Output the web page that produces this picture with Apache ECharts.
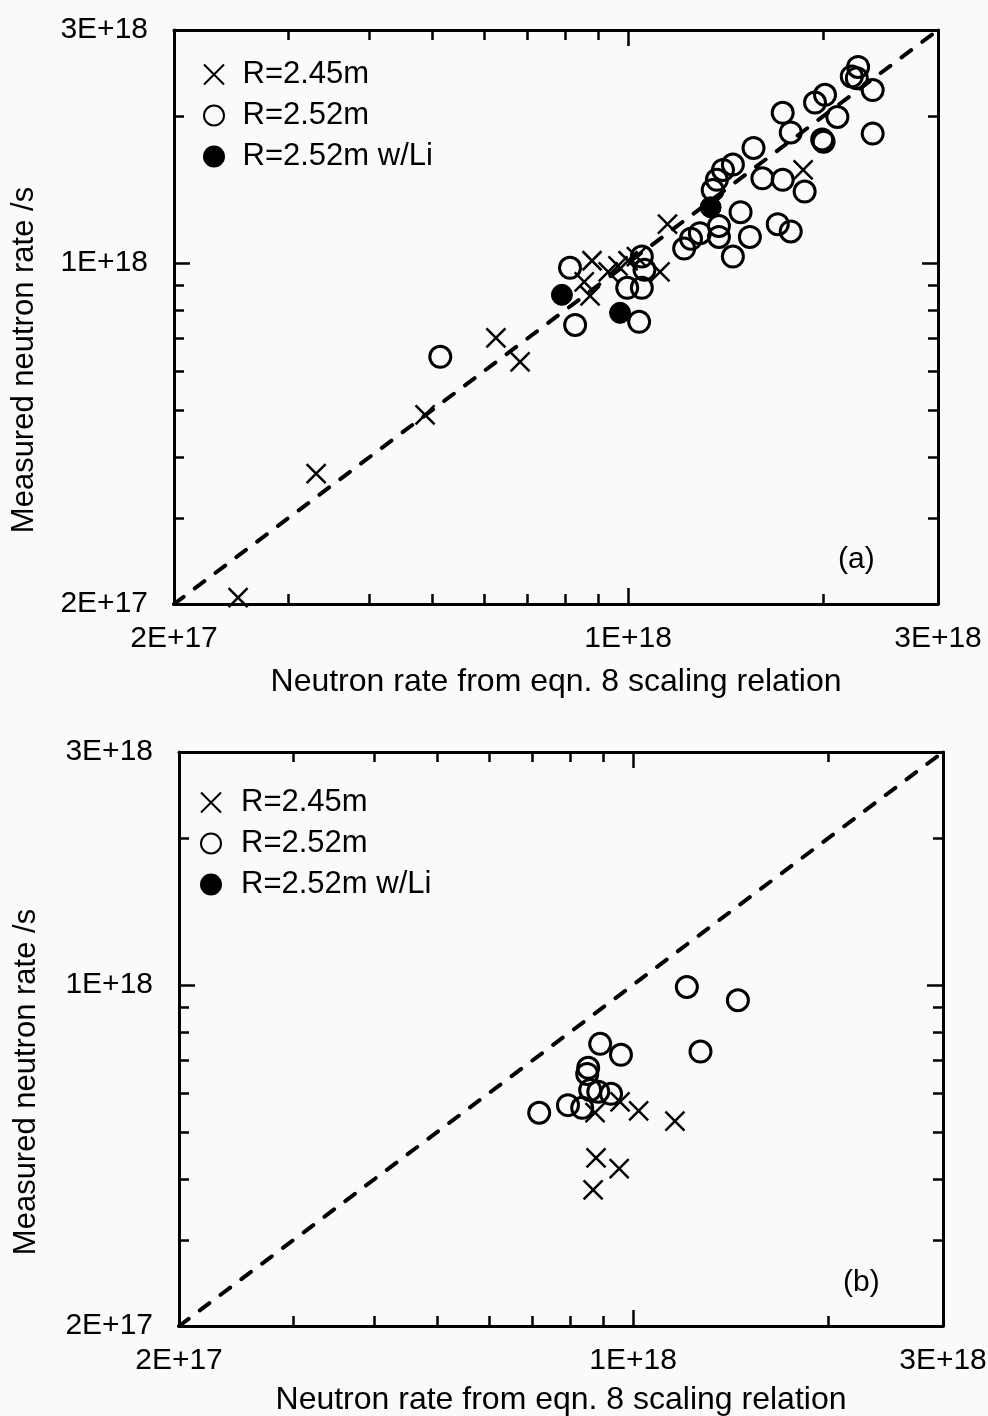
<!DOCTYPE html>
<html>
<head>
<meta charset="utf-8">
<script src="https://cdn.jsdelivr.net/npm/echarts@6.0.0/dist/echarts.min.js"></script>
<style>
html,body{margin:0;padding:0;background:#fafafa;}
#chart{width:988px;height:1416px;}
</style>
</head>
<body>
<div id="chart"></div>
<script>
var FONT = '"Liberation Sans", Arial, Helvetica, sans-serif';

// 数据
var legendNames = ['R=2.45m', 'R=2.52m', 'R=2.52m w/Li'];
var tickValues = [2e17, 1e18, 3e18];
var tickLabels = ['2E+17', '1E+18', '3E+18'];
var majorTicks = [1e18];
var minorTicks = [3e17, 4e17, 5e17, 6e17, 7e17, 8e17, 9e17, 2e18];
var lineEnds = [[2e17, 2e17], [3e18, 3e18]];
var xTitle = 'Neutron rate from eqn. 8 scaling relation';
var yTitle = 'Measured neutron rate /s';
var panelTags = ['(a)', '(b)'];

// (a)
var topCross = [
  [2.51e17, 2.06e17], [3.31e17, 3.70e17], [4.87e17, 4.88e17], [6.26e17, 7.02e17], [6.82e17, 6.27e17],
  [8.80e17, 1.01e18], [8.56e17, 9.14e17], [8.74e17, 8.56e17], [9.32e17, 9.58e17], [9.65e17, 9.86e17],
  [1.00e18, 1.01e18], [1.03e18, 1.03e18], [1.12e18, 9.58e17], [1.15e18, 1.20e18], [1.86e18, 1.55e18]
];
var topOpen = [
  [5.14e17, 6.42e17], [8.14e17, 9.77e17], [8.29e17, 7.46e17], [1.05e18, 1.03e18], [1.06e18, 9.68e17],
  [9.97e17, 8.89e17], [1.05e18, 8.89e17], [1.04e18, 7.57e17], [1.22e18, 1.07e18], [1.25e18, 1.12e18],
  [1.29e18, 1.15e18], [1.38e18, 1.19e18], [1.38e18, 1.13e18], [1.45e18, 1.03e18], [1.49e18, 1.27e18],
  [1.54e18, 1.13e18], [1.70e18, 1.20e18], [1.78e18, 1.16e18], [1.35e18, 1.41e18], [1.37e18, 1.48e18],
  [1.40e18, 1.55e18], [1.45e18, 1.59e18], [1.56e18, 1.72e18], [1.61e18, 1.49e18], [1.73e18, 1.48e18],
  [1.87e18, 1.40e18], [1.73e18, 2.03e18], [1.78e18, 1.85e18], [1.94e18, 2.13e18], [2.01e18, 2.21e18],
  [2.10e18, 1.99e18], [1.99e18, 1.79e18], [2.00e18, 1.77e18], [2.21e18, 2.41e18], [2.26e18, 2.52e18],
  [2.25e18, 2.39e18], [2.38e18, 2.26e18], [2.38e18, 1.84e18]
];
var topFilled = [[7.91e17, 8.60e17], [9.72e17, 7.90e17], [1.34e18, 1.30e18]];

// (b)
var botCross = [
  [8.74e17, 5.47e17], [9.55e17, 5.76e17], [1.02e18, 5.52e17], [1.16e18, 5.26e17],
  [8.77e17, 4.42e17], [9.52e17, 4.20e17], [8.68e17, 3.80e17]
];
var botOpen = [
  [1.21e18, 9.9e17], [1.45e18, 9.3e17], [1.27e18, 7.3e17], [8.9e17, 7.57e17], [9.58e17, 7.19e17],
  [8.53e17, 6.76e17], [8.50e17, 6.57e17], [8.59e17, 6.09e17], [8.84e17, 6.04e17], [9.25e17, 5.98e17],
  [7.94e17, 5.67e17], [8.35e17, 5.60e17], [7.17e17, 5.47e17]
];

var panels = [
  {left: 174, top: 30, width: 764, height: 574, gapX: 62, gapY: 134, legTop: 54, legLeft: 198, legW: 47, tag: [838, 545],
   cross: topCross, open: topOpen, filled: topFilled},
  {left: 179, top: 752, width: 764, height: 574, gapX: 58, gapY: 137, legTop: 782, legLeft: 195, legW: 50, tag: [843, 1268],
   cross: botCross, open: botOpen, filled: []}
];

var crossPath = 'path://M0,0L10,10M10,0L0,10';

function fmt(v) {
  for (var i = 0; i < tickValues.length; i++) {
    if (Math.abs(v / tickValues[i] - 1) < 1e-4) return tickLabels[i];
  }
  return '';
}

// 端点的标签稍微往里挪一点，不然会被过滤掉
var labelValues = tickValues.map(function (v) {
  return Math.min(Math.max(v, 2e17 * 1.00001), 3e18 * 0.99999);
});

function makeAxis(gi, pos, s, dim, p) {
  var ax = {
    type: 'log', logBase: 10, min: 2e17, max: 3e18, gridIndex: gi, position: pos,
    axisLine: {show: !!s.line, lineStyle: {color: '#000', width: 3}},
    axisTick: {show: true, inside: true, length: s.len, customValues: s.ticks,
      lineStyle: {color: '#000', width: 2.5}},
    axisLabel: {show: !!s.main, customValues: labelValues, formatter: fmt, color: '#000',
      fontSize: 30, fontFamily: FONT, margin: dim === 'x' ? 20 : 26, hideOverlap: false},
    splitLine: {show: false},
    minorTick: {show: false}
  };
  if (dim === 'x') {
    ax.axisLabel.alignMinLabel = 'center';
    ax.axisLabel.alignMaxLabel = 'center';
  }
  if (s.main) {
    ax.name = dim === 'x' ? xTitle : yTitle;
    ax.nameLocation = 'middle';
    ax.nameGap = dim === 'x' ? panels[p].gapX : panels[p].gapY;
    ax.nameTextStyle = {color: '#000', fontSize: dim === 'x' ? 32 : 31, fontFamily: FONT,
      padding: dim === 'x' ? 0 : [0, 86, 0, 0]};
  }
  return ax;
}

var grids = [], xAxes = [], yAxes = [], series = [], legends = [], graphics = [];

panels.forEach(function (r, p) {
  var sets = [
    {pos: ['bottom', 'left'], ticks: majorTicks, len: 16, line: true, main: true},
    {pos: ['bottom', 'left'], ticks: minorTicks, len: 10},
    {pos: ['top', 'right'], ticks: majorTicks, len: 16, line: true},
    {pos: ['top', 'right'], ticks: minorTicks, len: 10}
  ];
  var first = grids.length;
  sets.forEach(function (s) {
    var gi = grids.length;
    grids.push({left: r.left, top: r.top, width: r.width, height: r.height, outerBoundsMode: 'none'});
    xAxes.push(makeAxis(gi, s.pos[0], s, 'x', p));
    yAxes.push(makeAxis(gi, s.pos[1], s, 'y', p));
  });

  series.push({
    type: 'line', xAxisIndex: first, yAxisIndex: first, data: lineEnds, showSymbol: false, silent: true, z: 1,
    lineStyle: {color: '#000', width: 4, type: [12, 14], cap: 'round'}
  });
  series.push({
    name: legendNames[0], type: 'scatter', xAxisIndex: first, yAxisIndex: first, data: r.cross, z: 3,
    symbol: crossPath, symbolSize: 19,
    itemStyle: {color: 'transparent', borderColor: '#000', borderWidth: 2.5, opacity: 1}
  });
  series.push({
    name: legendNames[1], type: 'scatter', xAxisIndex: first, yAxisIndex: first, data: r.open, z: 3,
    symbol: 'circle', symbolSize: 21,
    itemStyle: {color: 'transparent', borderColor: '#000', borderWidth: 3, opacity: 1}
  });
  series.push({
    name: legendNames[2], type: 'scatter', xAxisIndex: first, yAxisIndex: first, data: r.filled, z: 3,
    symbol: 'circle', symbolSize: 21,
    itemStyle: {color: '#000', borderColor: '#000', borderWidth: 1, opacity: 1}
  });

  legends.push({
    left: r.legLeft, top: r.legTop, orient: 'vertical', itemWidth: r.legW, itemHeight: 20, itemGap: 10,
    selectedMode: false, data: legendNames,
    itemStyle: {opacity: 1},
    textStyle: {color: '#000', fontSize: 31, fontFamily: FONT, lineHeight: 30}
  });

  graphics.push({
    type: 'text', left: r.tag[0], top: r.tag[1],
    style: {text: panelTags[p], fill: '#000', font: '30px ' + FONT}
  });
});

var myChart = echarts.init(document.getElementById('chart'));
myChart.setOption({
  backgroundColor: '#fafafa',
  animation: false,
  grid: grids,
  xAxis: xAxes,
  yAxis: yAxes,
  legend: legends,
  graphic: graphics,
  series: series
});
</script>
</body>
</html>
